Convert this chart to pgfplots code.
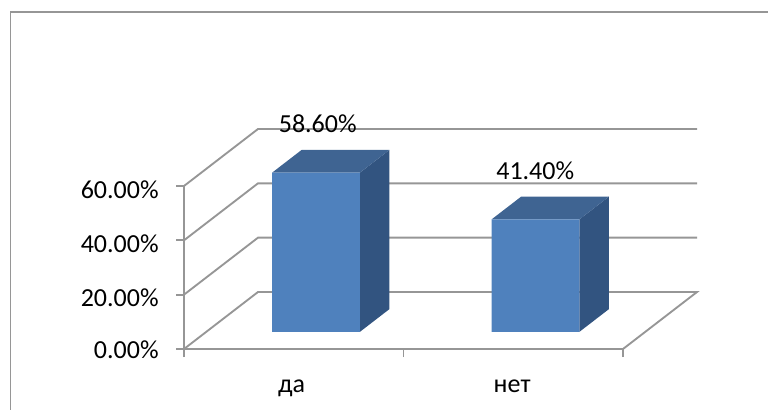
\documentclass[border=0pt]{standalone}
\usepackage{pgfplots}
\pgfplotsset{compat=1.18}
\usepackage{fontspec}
\setmainfont{Carlito}
\definecolor{lineg}{HTML}{969696}
\definecolor{barfront}{HTML}{4F81BD}
\definecolor{bartop}{HTML}{3F6492}
\definecolor{barside}{HTML}{325480}
\begin{document}
\begin{tikzpicture}[x=0.75pt,y=0.75pt]
\useasboundingbox (0,0) rectangle (768,410);
\draw[lineg,line width=1.4pt] (10.5,0) -- (10.5,398) -- (768,398);
\begin{axis}[
  anchor=origin, at={(138pt,45.75pt)},
  x={(164.625pt,0pt)}, y={(55.5pt,42.75pt)}, z={(0pt,2.0375pt)},
  xmin=0,xmax=2,ymin=0,ymax=1,zmin=0,zmax=60,
  axis lines=left,
  axis line style={-,draw=none},
  clip=false,
  major tick length=0pt,
  tick style={draw=none},
  xtick={0.5,1.5}, xticklabels={да,нет},
  ytick=\empty,
  ztick={0,20,40,60}, zticklabels={0.00\%,20.00\%,40.00\%,60.00\%},
  ticklabel style={font=\fontsize{19.5pt}{22pt}\selectfont,text=black},
  x tick label style={xshift=3.25pt,yshift=-19.75pt},
  z tick label style={xshift=-15.5pt,yshift=8.6pt},
]
\pgfplotsset{every axis plot/.append style={line width=1.4pt,lineg}}
% gridlines: side wall and back wall
\addplot3[no marks] coordinates {(0,0,0) (0,1,0) (2,1,0) (2,0,0) (0,0,0)};
\addplot3[no marks] coordinates {(0,0,20) (0,1,20) (2,1,20)};
\addplot3[no marks] coordinates {(0,0,40) (0,1,40) (2,1,40)};
\addplot3[no marks] coordinates {(0,0,60) (0,1,60) (2,1,60)};
% axis line and ticks
\addplot3[no marks] coordinates {(0,0,-3) (0,0,60)};
\addplot3[no marks] coordinates {(1,0,-3) (1,0,0)};
\addplot3[no marks] coordinates {(2,0,-3) (2,0,0)};
\addplot3[no marks] coordinates {(-0.036,0,0) (0,0,0)};
\addplot3[no marks] coordinates {(-0.036,0,20) (0,0,20)};
\addplot3[no marks] coordinates {(-0.036,0,40) (0,0,40)};
\addplot3[no marks] coordinates {(-0.036,0,60) (0,0,60)};
% bar 1
\addplot3[fill=barside,draw=none,no marks] coordinates {(0.7,0.3,0) (0.7,0.7,0) (0.7,0.7,58.6) (0.7,0.3,58.6) (0.7,0.3,0)};
\addplot3[fill=bartop,draw=none,no marks] coordinates {(0.3,0.3,58.6) (0.7,0.3,58.6) (0.7,0.7,58.6) (0.3,0.7,58.6) (0.3,0.3,58.6)};
\addplot3[fill=barfront,draw=none,no marks] coordinates {(0.3,0.3,0) (0.7,0.3,0) (0.7,0.3,58.6) (0.3,0.3,58.6) (0.3,0.3,0)};
% bar 2
\addplot3[fill=barside,draw=none,no marks] coordinates {(1.7,0.3,0) (1.7,0.7,0) (1.7,0.7,41.4) (1.7,0.3,41.4) (1.7,0.3,0)};
\addplot3[fill=bartop,draw=none,no marks] coordinates {(1.3,0.3,41.4) (1.7,0.3,41.4) (1.7,0.7,41.4) (1.3,0.7,41.4) (1.3,0.3,41.4)};
\addplot3[fill=barfront,draw=none,no marks] coordinates {(1.3,0.3,0) (1.7,0.3,0) (1.7,0.3,41.4) (1.3,0.3,41.4) (1.3,0.3,0)};
% data labels
\node[font=\fontsize{19.5pt}{22pt}\selectfont,text=black,xshift=18pt,yshift=49.5pt] at (axis cs:0.5,0,58.6) {58.60\%};
\node[font=\fontsize{19.5pt}{22pt}\selectfont,text=black,xshift=16.5pt,yshift=49pt] at (axis cs:1.5,0,41.4) {41.40\%};
\end{axis}
\end{tikzpicture}
\end{document}
